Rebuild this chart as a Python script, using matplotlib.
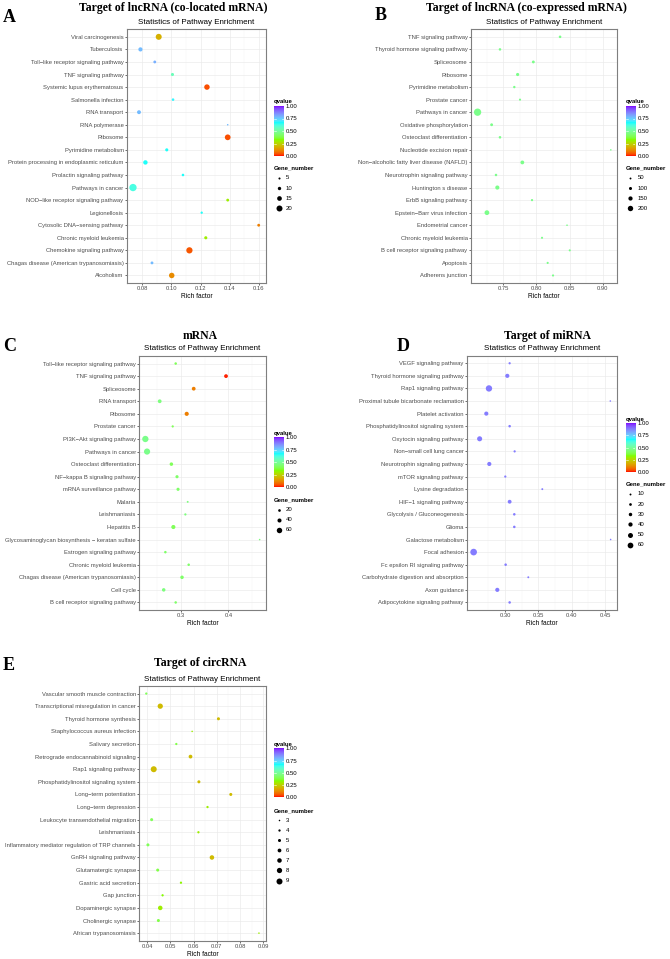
# KEGG enrichment bubble charts, five panels (A-E)

import numpy as np
import matplotlib
matplotlib.use('Agg')
import matplotlib.pyplot as plt
from matplotlib.colors import ListedColormap, to_rgb

plt.rcParams['font.family'] = ['Liberation Sans', 'DejaVu Sans']

W, H = 670, 959
M = '\u2212'

# ---------------- data ----------------
a_terms = ['Viral carcinogenesis', 'Tuberculosis', 'Toll' + M + 'like receptor signaling pathway',
           'TNF signaling pathway', 'Systemic lupus erythematosus', 'Salmonella infection',
           'RNA transport', 'RNA polymerase', 'Ribosome', 'Pyrimidine metabolism',
           'Protein processing in endoplasmic reticulum', 'Prolactin signaling pathway',
           'Pathways in cancer', 'NOD' + M + 'like receptor signaling pathway', 'Legionellosis',
           'Cytosolic DNA' + M + 'sensing pathway', 'Chronic myeloid leukemia',
           'Chemokine signaling pathway', 'Chagas disease (American trypanosomiasis)', 'Alcoholism']
a_rich = [0.0914, 0.0789, 0.0887, 0.1008, 0.1244, 0.1012, 0.0779, 0.1386, 0.1386, 0.0969,
          0.0823, 0.1080, 0.0738, 0.1386, 0.1208, 0.1598, 0.1236, 0.1124, 0.0868, 0.1003]
a_q = [0.18, 0.78, 0.80, 0.55, 0.04, 0.68, 0.78, 0.78, 0.04, 0.66,
       0.66, 0.66, 0.62, 0.30, 0.66, 0.10, 0.30, 0.05, 0.78, 0.12]
a_genes = [20, 13, 8, 9, 18, 7, 12, 3, 19, 9, 14, 7, 25, 8, 6, 8, 9, 21, 8, 18]

b_terms = ['TNF signaling pathway', 'Thyroid hormone signaling pathway', 'Spliceosome', 'Ribosome',
           'Pyrimidine metabolism', 'Prostate cancer', 'Pathways in cancer',
           'Oxidative phosphorylation', 'Osteoclast differentiation', 'Nucleotide excision repair',
           'Non' + M + 'alcoholic fatty liver disease (NAFLD)', 'Neurotrophin signaling pathway',
           'Huntington s disease', 'ErbB signaling pathway', 'Epstein' + M + 'Barr virus infection',
           'Endometrial cancer', 'Chronic myeloid leukemia', 'B cell receptor signaling pathway',
           'Apoptosis', 'Adherens junction']
b_rich = [0.8356, 0.7450, 0.7953, 0.7716, 0.7666, 0.7752, 0.7112, 0.7324, 0.7450, 0.9121,
          0.7787, 0.7390, 0.7410, 0.7933, 0.7253, 0.8461, 0.8084, 0.8502, 0.8169, 0.8250]
b_q = [0.47] * 20
b_genes = [80, 76, 91, 105, 72, 60, 282, 91, 78, 35, 132, 75, 146, 64, 173, 38, 58, 58, 60, 62]

c_terms = ['Toll' + M + 'like receptor signaling pathway', 'TNF signaling pathway', 'Spliceosome',
           'RNA transport', 'Ribosome', 'Prostate cancer', 'PI3K' + M + 'Akt signaling pathway',
           'Pathways in cancer', 'Osteoclast differentiation', 'NF' + M + 'kappa B signaling pathway',
           'mRNA surveillance pathway', 'Malaria', 'Leishmaniasis', 'Hepatitis B',
           'Glycosaminoglycan biosynthesis ' + M + ' keratan sulfate', 'Estrogen signaling pathway',
           'Chronic myeloid leukemia', 'Chagas disease (American trypanosomiasis)', 'Cell cycle',
           'B cell receptor signaling pathway']
c_rich = [0.2887, 0.3951, 0.3268, 0.2549, 0.3120, 0.2824, 0.2246, 0.2282, 0.2796, 0.2915,
          0.2937, 0.3141, 0.3092, 0.2838, 0.4662, 0.2669, 0.3162, 0.3021, 0.2634, 0.2887]
c_q = [0.40, 0.01, 0.10, 0.45, 0.10, 0.40, 0.47, 0.47, 0.40, 0.42,
       0.42, 0.45, 0.45, 0.40, 0.45, 0.42, 0.42, 0.42, 0.45, 0.42]
c_genes = [18, 36, 36, 36, 41, 14, 72, 70, 32, 27, 27, 9, 14, 41, 4, 18, 18, 32, 32, 18]

d_terms = ['VEGF signaling pathway', 'Thyroid hormone signaling pathway', 'Rap1 signaling pathway',
           'Proximal tubule bicarbonate reclamation', 'Platelet activation',
           'Phosphatidylinositol signaling system', 'Oxytocin signaling pathway',
           'Non' + M + 'small cell lung cancer', 'Neurotrophin signaling pathway',
           'mTOR signaling pathway', 'Lysine degradation', 'HIF' + M + '1 signaling pathway',
           'Glycolysis / Gluconeogenesis', 'Glioma', 'Galactose metabolism', 'Focal adhesion',
           'Fc epsilon RI signaling pathway', 'Carbohydrate digestion and absorption',
           'Axon guidance', 'Adipocytokine signaling pathway']
d_rich = [0.307, 0.3035, 0.276, 0.458, 0.272, 0.307, 0.262, 0.3145, 0.2765, 0.3005,
          0.356, 0.307, 0.314, 0.314, 0.4585, 0.253, 0.301, 0.335, 0.2885, 0.307]
d_q = [0.88] * 20
d_genes = [14, 39, 68, 5, 39, 18, 51, 14, 39, 14, 10, 35, 18, 18, 5, 72, 18, 10, 39, 18]

e_terms = ['Vascular smooth muscle contraction', 'Transcriptional misregulation in cancer',
           'Thyroid hormone synthesis', 'Staphylococcus aureus infection', 'Salivary secretion',
           'Retrograde endocannabinoid signaling', 'Rap1 signaling pathway',
           'Phosphatidylinositol signaling system', 'Long' + M + 'term potentiation',
           'Long' + M + 'term depression', 'Leukocyte transendothelial migration', 'Leishmaniasis',
           'Inflammatory mediator regulation of TRP channels', 'GnRH signaling pathway',
           'Glutamatergic synapse', 'Gastric acid secretion', 'Gap junction',
           'Dopaminergic synapse', 'Cholinergic synapse', 'African trypanosomiasis']
e_rich = [0.0397, 0.0457, 0.0707, 0.0594, 0.0526, 0.0587, 0.0429, 0.0623, 0.0760, 0.0660,
          0.0420, 0.0621, 0.0404, 0.0679, 0.0446, 0.0546, 0.0467, 0.0457, 0.0449, 0.0881]
e_q = [0.40, 0.20, 0.20, 0.30, 0.38, 0.20, 0.20, 0.20, 0.20, 0.30,
       0.40, 0.30, 0.40, 0.20, 0.38, 0.32, 0.33, 0.30, 0.38, 0.30]
e_genes = [4, 8, 5, 3, 4, 6, 9, 5, 5, 4, 5, 4, 5, 7, 5, 4, 4, 7, 5, 3]


# ---------------- colour scale: rainbow(4) interpolated in Lab ----------------
XYZ_M = np.array([[0.4124, 0.3576, 0.1805],
                  [0.2126, 0.7152, 0.0722],
                  [0.0193, 0.1192, 0.9505]])
WHITE = np.array([0.95047, 1.0, 1.08883])


def to_lab(hexc):
    rgb = np.array(to_rgb(hexc))
    lin = np.where(rgb <= 0.04045, rgb / 12.92, ((rgb + 0.055) / 1.055) ** 2.4)
    xyz = XYZ_M @ lin / WHITE
    f = np.where(xyz > (6 / 29) ** 3, np.cbrt(xyz), xyz / (3 * (6 / 29) ** 2) + 4 / 29)
    return np.array([116 * f[1] - 16, 500 * (f[0] - f[1]), 200 * (f[1] - f[2])])


def from_lab(lab):
    fy = (lab[0] + 16) / 116
    f = np.array([fy + lab[1] / 500, fy, fy - lab[2] / 200])
    xyz = np.where(f > 6 / 29, f ** 3, 3 * (6 / 29) ** 2 * (f - 4 / 29)) * WHITE
    lin = np.clip(np.linalg.solve(XYZ_M, xyz), 0, 1)
    rgb = np.where(lin <= 0.0031308, 12.92 * lin, 1.055 * lin ** (1 / 2.4) - 0.055)
    return np.clip(rgb, 0, 1)


labs = [to_lab(c) for c in ['#FF0000', '#80FF00', '#00FFFF', '#8000FF']]
samples = []
for t in np.linspace(0, 1, 256):
    seg = min(int(t * 3), 2)
    u = t * 3 - seg
    samples.append(from_lab(labs[seg] * (1 - u) + labs[seg + 1] * u))
qcmap = ListedColormap(samples)


def px_rect(x0, y0, x1, y1):
    return [x0 / W, 1 - y1 / H, (x1 - x0) / W, (y1 - y0) / H]


def dot_size(g, gmin, gmax, dmax, dmin=1.55):
    d = dmin + (dmax - dmin) * (np.asarray(g, dtype=float) - gmin) / (gmax - gmin)
    return (d * 0.72) ** 2


fig = plt.figure(figsize=(W / 100, H / 100), dpi=100)
ov = fig.add_axes([0, 0, 1, 1], zorder=10)
ov.set_xlim(0, W)
ov.set_ylim(H, 0)
ov.axis('off')


def draw_panel(terms, rich, q, genes, letter, title, box, title_xy, letter_xy, sub_y,
               xlim, xticks, fmt, cbox, gtitle_y, gdy, leg_vals, dmax):
    ax = fig.add_axes(px_rect(*box))
    n = len(terms)
    ypos = np.arange(n)[::-1]
    gmin, gmax = min(genes), max(genes)
    ax.scatter(rich, ypos, s=dot_size(genes, gmin, gmax, dmax), c=q, cmap=qcmap,
               vmin=0, vmax=1, linewidths=0, zorder=3)
    ax.set_ylim(-0.6, n - 0.4)
    ax.set_yticks(ypos)
    ax.set_yticklabels(terms)
    ax.set_xlim(*xlim)
    ax.set_xticks(xticks)
    ax.set_xticklabels([fmt % t for t in xticks])
    step = xticks[1] - xticks[0]
    minor = [t - step / 2 for t in xticks] + [xticks[-1] + step / 2]
    ax.set_xticks([m for m in minor if xlim[0] < m < xlim[1]], minor=True)
    ax.set_axisbelow(True)
    ax.grid(which='major', color='#EBEBEB', lw=0.5)
    ax.grid(which='minor', axis='x', color='#F3F3F3', lw=0.35)
    ax.tick_params(which='minor', length=0)
    ax.tick_params(which='major', length=1.5, width=0.5, color='#333333',
                   labelsize=4.25, labelcolor='#4D4D4D', pad=1)
    for sp in ax.spines.values():
        sp.set_color('#7F7F7F')
        sp.set_linewidth(0.8)
    ax.set_xlabel('Rich factor', fontsize=4.8, labelpad=1)

    ov.text(title_xy[0], title_xy[1], title, family='Liberation Serif', fontweight='bold',
            fontsize=8.5, ha='center', va='center')
    ov.text(letter_xy[0], letter_xy[1], letter, family='Liberation Serif', fontweight='bold',
            fontsize=13, ha='left', va='center')
    ov.text((box[0] + box[2]) / 2, sub_y, 'Statistics of Pathway Enrichment',
            fontsize=5.8, ha='center', va='center')

    # qvalue colour bar
    cb = fig.add_axes(px_rect(*cbox))
    cb.imshow(np.linspace(0, 1, 256)[:, None], aspect='auto', cmap=qcmap,
              origin='lower', extent=[0, 1, 0, 1])
    cb.set_xticks([])
    cb.yaxis.tick_right()
    cb.set_yticks([0, 0.25, 0.5, 0.75, 1])
    cb.set_yticklabels(['0.00', '0.25', '0.50', '0.75', '1.00'])
    cb.tick_params(length=0, labelsize=4.3, pad=1.5)
    for sp in cb.spines.values():
        sp.set_visible(False)
    for v in [0.25, 0.5, 0.75]:
        cb.plot([0, 0.2], [v, v], color='white', lw=0.4)
        cb.plot([0.8, 1], [v, v], color='white', lw=0.4)
    cb.set_xlim(0, 1)
    cb.set_ylim(0, 1)
    ov.text(cbox[0], cbox[1] - 1.5, 'qvalue', fontsize=4.3, fontweight='bold',
            ha='left', va='bottom')

    # Gene_number size legend
    ov.text(cbox[0], gtitle_y, 'Gene_number', fontsize=4.3, fontweight='bold',
            ha='left', va='center')
    for i, g in enumerate(leg_vals):
        yy = gtitle_y + 9.5 + i * gdy
        ov.scatter([cbox[0] + 4.5], [yy], s=dot_size(g, gmin, gmax, dmax), color='black',
                   linewidths=0)
        ov.text(cbox[0] + 12, yy, str(g), fontsize=4.3, va='center', ha='left')


draw_panel(a_terms, a_rich, a_q, a_genes, 'A', 'Target of lncRNA (co-located mRNA)',
           (127, 29.3, 266, 283), (173, 7.5), (3, 18), 22.7,
           (0.0697, 0.1648), [0.08, 0.10, 0.12, 0.14, 0.16], '%.2f',
           (274, 106, 283.5, 156), 168.3, 10.2, [5, 10, 15, 20], 7.3)

draw_panel(b_terms, b_rich, b_q, b_genes, 'B', 'Target of lncRNA (co-expressed mRNA)',
           (471, 29.3, 617.3, 283), (526.7, 7.5), (375, 16), 22.7,
           (0.7013, 0.9219), [0.75, 0.80, 0.85, 0.90], '%.2f',
           (625.7, 106, 635.2, 156), 168.3, 10.2, [50, 100, 150, 200], 7.3)

draw_panel(c_terms, c_rich, c_q, c_genes, 'C', 'mRNA',
           (139.3, 356, 265.7, 610), (200, 336), (3, 346.5), 349,
           (0.2118, 0.479), [0.3, 0.4], '%.1f',
           (274, 437.3, 283.5, 487), 500, 10, [20, 40, 60], 6.3)

draw_panel(d_terms, d_rich, d_q, d_genes, 'D', 'Target of miRNA',
           (467.3, 355.7, 617.3, 610), (548, 336), (397, 346.5), 349,
           (0.2435, 0.4685), [0.30, 0.35, 0.40, 0.45], '%.2f',
           (625.7, 423.3, 635.2, 471.7), 484.3, 10.2, [10, 20, 30, 40, 50, 60], 6.66)

draw_panel(e_terms, e_rich, e_q, e_genes, 'E', 'Target of circRNA',
           (139.3, 686, 265.7, 940.7), (200, 663), (3, 666), 679.3,
           (0.0367, 0.091), [0.04, 0.05, 0.06, 0.07, 0.08, 0.09], '%.2f',
           (274, 748.3, 283.5, 797.3), 810.7, 10.05, [3, 4, 5, 6, 7, 8, 9], 6.0)

fig.savefig('out.png', dpi=100)
